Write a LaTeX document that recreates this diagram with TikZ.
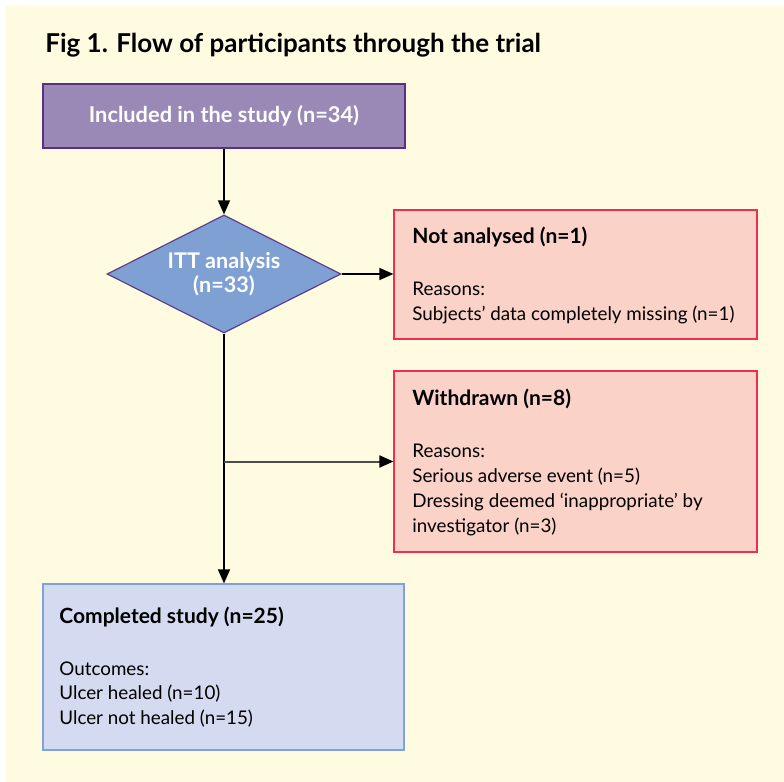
\documentclass[tikz,border=0pt]{standalone}
\usepackage{fontspec}
\setmainfont{Lato}
\usetikzlibrary{shapes.geometric,arrows.meta}
\definecolor{cream}{HTML}{FFFBE0}
\definecolor{incfill}{HTML}{9A89B6}
\definecolor{incline}{HTML}{5C2E84}
\definecolor{ittfill}{HTML}{7FA0D3}
\definecolor{ittline}{HTML}{5B3F8C}
\definecolor{outfill}{HTML}{FAD2C8}
\definecolor{outline}{HTML}{EE2D4F}
\definecolor{donefill}{HTML}{D4DAEF}
\definecolor{doneline}{HTML}{7FA2DA}

\begin{document}
\begin{tikzpicture}[x=0.5pt, y=-0.5pt,
	every node/.style={inner sep=0pt, font=\fontsize{9.4}{11}\selectfont},
	box/.style={draw, rectangle, line width=0.6pt},
	txt/.style={anchor=base west},
	head/.style={anchor=base west, font=\fontsize{10.5}{12}\selectfont\bfseries},
	flow/.style={-{Triangle[length=7pt,width=6pt,color=black]}, line width=0.75pt}]
	\useasboundingbox (0,0) rectangle (784,782);
	\fill[cream] (6,6) rectangle (784,782);
	\node[anchor=base west, font=\fontsize{13}{15}\selectfont\bfseries] (title) at (45,52) {Fig 1. Flow of participants through the trial};

	% main column
	\node[box, draw=incline, fill=incfill, minimum width=181pt, minimum height=32pt, text=white, font=\fontsize{10.9}{12}\selectfont\bfseries] (inc) at (224,116) {Included in the study (n=34)};
	\node[diamond, aspect=2, draw=ittline, fill=ittfill, line width=0.6pt, minimum width=117pt, minimum height=59pt, align=center, text=white, font=\fontsize{10.8}{12}\selectfont\bfseries] (itt) at (224,274) {ITT analysis\\(n=33)};
	\node[box, draw=doneline, fill=donefill, minimum width=180.5pt, minimum height=83pt] (done) at (223.5,667) {};

	% side boxes
	\node[box, draw=outline, fill=outfill, minimum width=181.5pt, minimum height=64.5pt] (na) at (575.5,274.5) {};
	\node[box, draw=outline, fill=outfill, minimum width=181.5pt, minimum height=90.5pt] (wd) at (575.5,461.5) {};

	% box texts
	\node[head] (na-h) at (412,243) {Not analysed (n=1)};
	\foreach \t [count=\i] in {Reasons:, Subjects’ data completely missing (n=1)}
		\node[txt] (na-\i) at (412,{295+25*(\i-1)}) {\t};
	\node[head] (wd-h) at (412,405) {Withdrawn (n=8)};
	\foreach \t [count=\i] in {Reasons:, Serious adverse event (n=5), Dressing deemed ‘inappropriate’ by, investigator (n=3)}
		\node[txt] (wd-\i) at (412,{457+25*(\i-1)}) {\t};
	\node[head] (done-h) at (59,623) {Completed study (n=25)};
	\foreach \t [count=\i] in {Outcomes:, Ulcer healed (n=10), Ulcer not healed (n=15)}
		\node[txt] (done-\i) at (59,{675+24.5*(\i-1)}) {\t};

	% connectors
	\coordinate (br) at (itt.south |- wd.west);
	\draw[flow] (inc) -- (itt);
	\draw[flow] (itt.east) -- (itt.east -| na.west);
	\draw[flow] (itt.south) -- (itt.south |- done.north);
	\draw[flow, draw=black!70, line width=1pt] (br) -- (wd.west);
\end{tikzpicture}
\end{document}
